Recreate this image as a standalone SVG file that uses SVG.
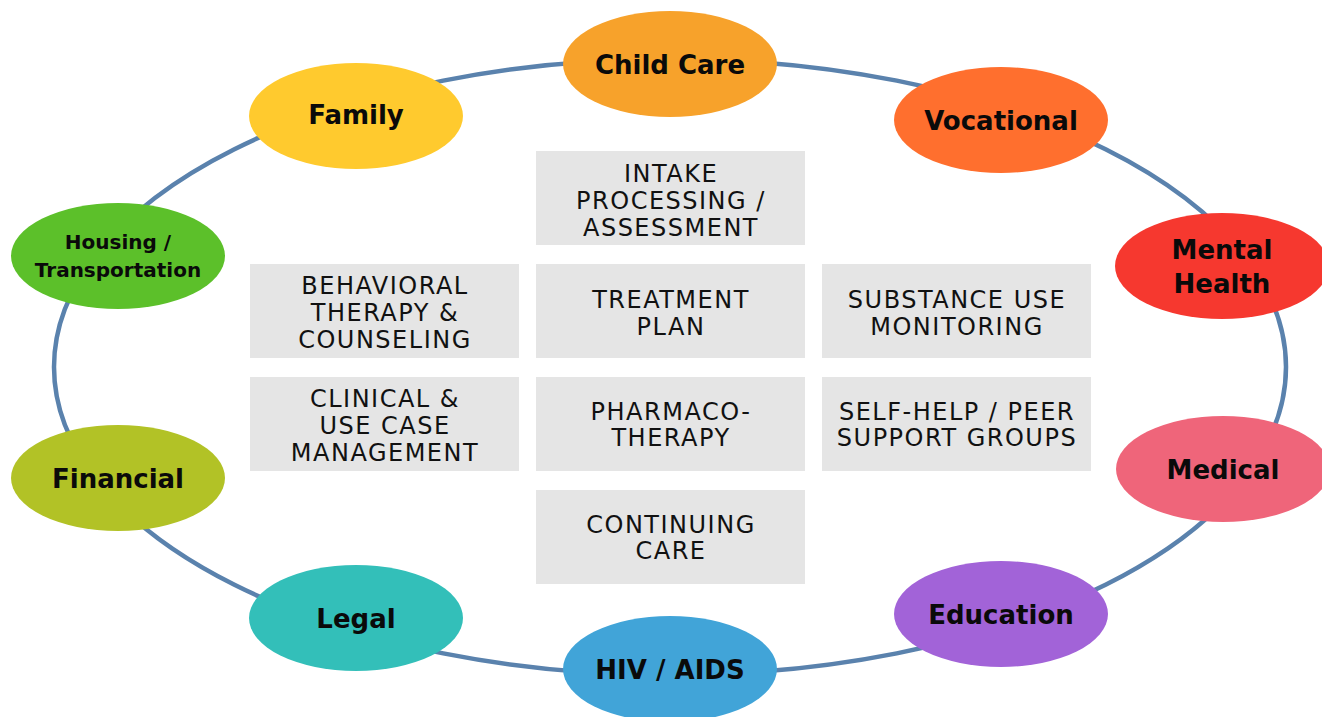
<svg xmlns="http://www.w3.org/2000/svg" width="1322" height="717" viewBox="0 0 1322 717">
  <style>
    .ring { fill: none; stroke: #5A82AD; stroke-width: 4.5; }
    .box rect { fill: #E5E5E5; }
    .box text { font-family: "DejaVu Sans", "Liberation Sans", sans-serif; font-size: 24px; letter-spacing: 1.5px; fill: #111; text-anchor: middle; }
    .node text { font-family: "DejaVu Sans", "Liberation Sans", sans-serif; font-weight: bold; font-size: 26px; fill: #0A0A0A; text-anchor: middle; }
    .node text.small { font-size: 20px; }
  </style>

  <!-- connecting ring -->
  <g id="connectors">
    <ellipse class="ring" cx="670" cy="367" rx="616" ry="308"/>
  </g>

  <!-- central service boxes -->
  <g id="box-intake" class="box">
    <rect x="536" y="151" width="269" height="94"/>
    <text x="671" y="182">INTAKE</text>
    <text x="671" y="209">PROCESSING /</text>
    <text x="671" y="236">ASSESSMENT</text>
  </g>
  <g id="box-behavioral" class="box">
    <rect x="250" y="264" width="269" height="94"/>
    <text x="385" y="294">BEHAVIORAL</text>
    <text x="385" y="321">THERAPY &amp;</text>
    <text x="385" y="348">COUNSELING</text>
  </g>
  <g id="box-treatment" class="box">
    <rect x="536" y="264" width="269" height="94"/>
    <text x="671" y="308">TREATMENT</text>
    <text x="671" y="335">PLAN</text>
  </g>
  <g id="box-substance" class="box">
    <rect x="822" y="264" width="269" height="94"/>
    <text x="957" y="308">SUBSTANCE USE</text>
    <text x="957" y="335">MONITORING</text>
  </g>
  <g id="box-clinical" class="box">
    <rect x="250" y="377" width="269" height="94"/>
    <text x="385" y="407">CLINICAL &amp;</text>
    <text x="385" y="434">USE CASE</text>
    <text x="385" y="461">MANAGEMENT</text>
  </g>
  <g id="box-pharmaco" class="box">
    <rect x="536" y="377" width="269" height="94"/>
    <text x="671" y="420">PHARMACO-</text>
    <text x="671" y="446">THERAPY</text>
  </g>
  <g id="box-selfhelp" class="box">
    <rect x="822" y="377" width="269" height="94"/>
    <text x="957" y="420">SELF-HELP / PEER</text>
    <text x="957" y="446">SUPPORT GROUPS</text>
  </g>
  <g id="box-continuing" class="box">
    <rect x="536" y="490" width="269" height="94"/>
    <text x="671" y="533">CONTINUING</text>
    <text x="671" y="559">CARE</text>
  </g>

  <!-- surrounding support nodes -->
  <g id="node-childcare" class="node">
    <ellipse cx="670" cy="64" rx="107" ry="53" fill="#F7A22B"/>
    <text x="670" y="74">Child Care</text>
  </g>
  <g id="node-family" class="node">
    <ellipse cx="356" cy="116" rx="107" ry="53" fill="#FFCA2E"/>
    <text x="356" y="124">Family</text>
  </g>
  <g id="node-vocational" class="node">
    <ellipse cx="1001" cy="120" rx="107" ry="53" fill="#FF6F2E"/>
    <text x="1001" y="130">Vocational</text>
  </g>
  <g id="node-housing" class="node">
    <ellipse cx="118" cy="256" rx="107" ry="53" fill="#5CC02A"/>
    <text class="small" x="118" y="249">Housing /</text>
    <text class="small" x="118" y="277">Transportation</text>
  </g>
  <g id="node-mentalhealth" class="node">
    <ellipse cx="1222" cy="266" rx="107" ry="53" fill="#F6382F"/>
    <text x="1222" y="259">Mental</text>
    <text x="1222" y="293">Health</text>
  </g>
  <g id="node-financial" class="node">
    <ellipse cx="118" cy="478" rx="107" ry="53" fill="#B2C226"/>
    <text x="118" y="488">Financial</text>
  </g>
  <g id="node-medical" class="node">
    <ellipse cx="1223" cy="469" rx="107" ry="53" fill="#EF657A"/>
    <text x="1223" y="479">Medical</text>
  </g>
  <g id="node-legal" class="node">
    <ellipse cx="356" cy="618" rx="107" ry="53" fill="#33BFB9"/>
    <text x="356" y="628">Legal</text>
  </g>
  <g id="node-education" class="node">
    <ellipse cx="1001" cy="614" rx="107" ry="53" fill="#A263D8"/>
    <text x="1001" y="624">Education</text>
  </g>
  <g id="node-hivaids" class="node">
    <ellipse cx="670" cy="669" rx="107" ry="53" fill="#41A4D8"/>
    <text x="670" y="679">HIV / AIDS</text>
  </g>
</svg>
